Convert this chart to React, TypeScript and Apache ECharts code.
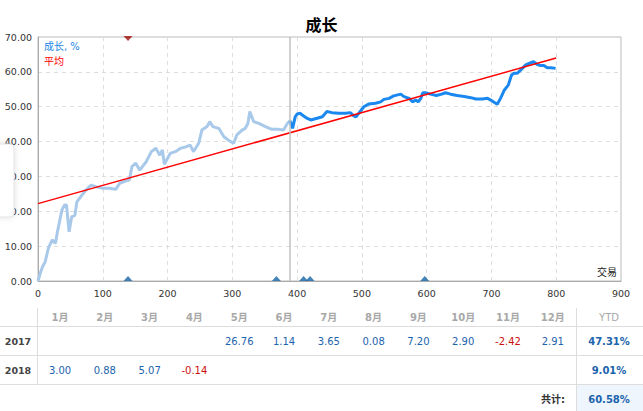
import React, { useEffect, useRef } from "react";
import * as echarts from "echarts";

const growthHistory: [number, number][] = [
  [0, 0], [4, 2.5], [7, 4.1], [11, 5.5], [16, 9.4], [22, 11.8], [27, 10.8], [30, 14.1], [37, 20.4], [41, 21.8],
  [44, 21.8], [48, 14.1], [52, 18.4], [57, 18.9], [60, 22.7], [66, 24.2], [74, 26.1], [82, 27.5], [90, 27.0],
  [100, 26.6], [110, 26.6], [120, 26.3], [126, 28.0], [133, 28.5], [141, 29.0], [145, 32.8], [151, 33.8],
  [157, 31.8], [167, 34.2], [175, 37.1], [182, 38.1], [188, 36.1], [192, 37.6], [195, 33.5], [204, 36.6],
  [212, 37.1], [220, 38.1], [227, 38.4], [235, 39.0], [240, 37.1], [248, 39.5], [253, 43.3], [261, 44.3],
  [265, 45.7], [270, 44.3], [279, 43.8], [287, 41.4], [294, 40.4], [302, 39.5], [307, 41.9], [315, 43.3],
  [320, 43.8], [324, 45.2], [327, 48.6], [333, 45.7], [341, 45.2], [351, 44.3], [361, 43.5], [372, 43.5],
  [379, 43.3], [385, 45.2], [389, 46.0],
];

const growthLive: [number, number][] = [
  [389, 46.0], [393, 43.8], [397, 47.1], [400, 47.9], [405, 48.1], [408, 47.6], [415, 46.7], [421, 46.2],
  [431, 46.7], [439, 47.1], [446, 48.6], [454, 48.3], [464, 48.1], [475, 48.1], [482, 48.3], [488, 47.3],
  [491, 47.1], [495, 48.1], [503, 50.0], [511, 50.8], [521, 51.0], [529, 51.4], [534, 52.1], [542, 52.4],
  [549, 53.1], [560, 53.6], [565, 52.9], [573, 52.4], [578, 51.4], [583, 51.9], [587, 51.4], [591, 52.4],
  [594, 54.0], [598, 54.0], [606, 53.6], [615, 53.2], [623, 53.6], [629, 54.0], [637, 53.6], [647, 53.2],
  [658, 52.9], [668, 52.6], [676, 52.2], [686, 52.2], [694, 52.4], [699, 51.9], [704, 51.3], [709, 50.7],
  [714, 52.4], [720, 54.8], [726, 56.2], [731, 59.1], [735, 59.6], [740, 59.6], [745, 60.5], [753, 62.0],
  [758, 62.4], [765, 62.9], [771, 62.1], [776, 61.8], [781, 61.8], [786, 61.2], [792, 61.2], [799, 61.0],
];

const averageLine: [number, number][] = [[0, 22.2], [800, 64.0]];
const liveStart = 388;
const topMarkers: number[] = [139];
const bottomMarkers: number[] = [139, 368, 410, 420, 597];

const months = ["1月", "2月", "3月", "4月", "5月", "6月", "7月", "8月", "9月", "10月", "11月", "12月"];
const years = ["2017", "2018"];
const returns2017: (number | null)[] = [null, null, null, null, 26.76, 1.14, 3.65, 0.08, 7.2, 2.9, -2.42, 2.91];
const returns2018: (number | null)[] = [3.0, 0.88, 5.07, -0.14, null, null, null, null, null, null, null, null];
const ytd: number[] = [47.31, 9.01];
const totalGrowth = 60.58;

const FONT = "'DejaVu Sans', 'Noto Sans CJK SC', sans-serif";

export default function App() {
  const ref = useRef<HTMLDivElement>(null);
  useEffect(() => {
    if (!ref.current) return;
    const chart = echarts.init(ref.current, null, { renderer: "svg" });

    const colX = (i: number) => 60 + i * 44.8;
    const ytdX = 609;
    const rowY = [341, 370];
    const blue = "#1c64ad";
    const red = "#cc1111";
    const gray = "#ddd";

    const graphics: any[] = [];
    // left hidden tooltip remnant
    graphics.push({
      type: "rect",
      z: 100,
      shape: { x: -20, y: 144, width: 34, height: 73, r: 4 },
      style: { fill: "#fff", stroke: "#e2e2e2", lineWidth: 1, shadowBlur: 6, shadowColor: "rgba(0,0,0,0.12)" },
    });
    // legend texts
    graphics.push({ type: "text", x: 44, y: 46, style: { text: "成长, %", fill: "#1a86e8", fontSize: 10, fontFamily: FONT, verticalAlign: "middle" } });
    graphics.push({ type: "text", x: 44, y: 61, style: { text: "平均", fill: "#ff0000", fontSize: 10, fontFamily: FONT, verticalAlign: "middle" } });
    graphics.push({ type: "text", x: 617, y: 272, style: { text: "交易", fill: "#222", fontSize: 10, fontFamily: FONT, align: "right", verticalAlign: "middle" } });

    // table background for total cell
    graphics.push({ type: "rect", shape: { x: 577, y: 385, width: 70, height: 30 }, style: { fill: "#eef5fc" } });
    // horizontal lines
    [326.5, 355.5, 384.5].forEach((y) => {
      graphics.push({ type: "line", shape: { x1: 0, y1: y, x2: 643, y2: y }, style: { stroke: gray, lineWidth: 1 } });
    });
    // vertical lines
    graphics.push({ type: "line", shape: { x1: 37.5, y1: 308, x2: 37.5, y2: 384.5 }, style: { stroke: gray, lineWidth: 1 } });
    graphics.push({ type: "line", shape: { x1: 576.5, y1: 308, x2: 576.5, y2: 411 }, style: { stroke: gray, lineWidth: 1 } });

    months.forEach((m, i) => {
      graphics.push({ type: "text", x: colX(i), y: 317, style: { text: m, fill: "#a8a8a8", fontSize: 10, fontWeight: "bold", fontFamily: FONT, align: "center", verticalAlign: "middle" } });
    });
    graphics.push({ type: "text", x: ytdX, y: 317, style: { text: "YTD", fill: "#a8a8a8", fontSize: 10, fontFamily: FONT, align: "center", verticalAlign: "middle" } });

    [returns2017, returns2018].forEach((row, r) => {
      graphics.push({ type: "text", x: 18, y: rowY[r], style: { text: years[r], fill: "#444", fontSize: 9.5, fontWeight: "bold", fontFamily: FONT, align: "center", verticalAlign: "middle" } });
      row.forEach((v, i) => {
        if (v === null) return;
        graphics.push({ type: "text", x: colX(i), y: rowY[r], style: { text: v.toFixed(2), fill: v < 0 ? red : blue, fontSize: 10, fontFamily: FONT, align: "center", verticalAlign: "middle" } });
      });
      graphics.push({ type: "text", x: ytdX, y: rowY[r], style: { text: ytd[r].toFixed(2) + "%", fill: blue, fontSize: 10, fontWeight: "bold", fontFamily: FONT, align: "center", verticalAlign: "middle" } });
    });
    graphics.push({ type: "text", x: 565, y: 399, style: { text: "共计:", fill: "#333", fontSize: 10, fontWeight: "bold", fontFamily: FONT, align: "right", verticalAlign: "middle" } });
    graphics.push({ type: "text", x: ytdX, y: 399, style: { text: totalGrowth.toFixed(2) + "%", fill: blue, fontSize: 10, fontWeight: "bold", fontFamily: FONT, align: "center", verticalAlign: "middle" } });

    chart.setOption({
      animation: false,
      title: {
        text: "成长",
        left: "center",
        top: 11,
        textStyle: { fontSize: 16, fontWeight: "bold", color: "#000", fontFamily: "'Noto Sans CJK SC', sans-serif" },
      },
      grid: { left: 38, right: 22, top: 37, bottom: 130, show: true, borderColor: "#bbb", borderWidth: 1, containLabel: false },
      xAxis: {
        type: "value",
        min: 0,
        max: 900,
        interval: 100,
        axisLine: { show: true, lineStyle: { color: "#aaa" } },
        axisTick: { show: false },
        axisLabel: { color: "#333", fontSize: 9.5, fontFamily: FONT, margin: 8 },
        splitLine: { show: true, lineStyle: { color: "#ddd", type: [4, 4] } },
      },
      yAxis: {
        type: "value",
        min: 0,
        max: 70,
        interval: 10,
        axisLine: { show: true, lineStyle: { color: "#aaa" } },
        axisTick: { show: false },
        axisLabel: { color: "#333", fontSize: 9.5, fontFamily: FONT, margin: 6, formatter: (v: number) => v.toFixed(2) },
        splitLine: { show: true, lineStyle: { color: "#ddd", type: [4, 4] } },
      },
      series: [
        {
          type: "line",
          data: growthHistory,
          showSymbol: false,
          lineStyle: { color: "#a9c9ea", width: 3 },
          z: 3,
          markLine: {
            symbol: "none",
            silent: true,
            label: { show: false },
            lineStyle: { color: "#c0c0c0", type: "solid", width: 1.5 },
            data: [{ xAxis: liveStart }],
          },
        },
        {
          type: "line",
          data: growthLive,
          showSymbol: false,
          lineStyle: { color: "#1a88ee", width: 3 },
          z: 3,
        },
        {
          type: "line",
          data: averageLine,
          showSymbol: false,
          lineStyle: { color: "#ff0000", width: 1.5 },
          z: 4,
        },
        {
          type: "scatter",
          data: bottomMarkers.map((x) => [x, 0]),
          symbol: "triangle",
          symbolSize: [9, 5],
          symbolOffset: [0, -2.5],
          itemStyle: { color: "#1565a8" },
          z: 5,
        },
        {
          type: "scatter",
          data: topMarkers.map((x) => [x, 70]),
          symbol: "triangle",
          symbolRotate: 180,
          symbolSize: [9, 5],
          symbolOffset: [0, 1.5],
          itemStyle: { color: "#a01010" },
          z: 5,
        },
      ],
      graphic: graphics,
    });
    return () => chart.dispose();
  }, []);
  return <div ref={ref} style={{ position: "fixed", left: 0, top: 0, width: 643, height: 411, background: "#fff" }} />;
}
